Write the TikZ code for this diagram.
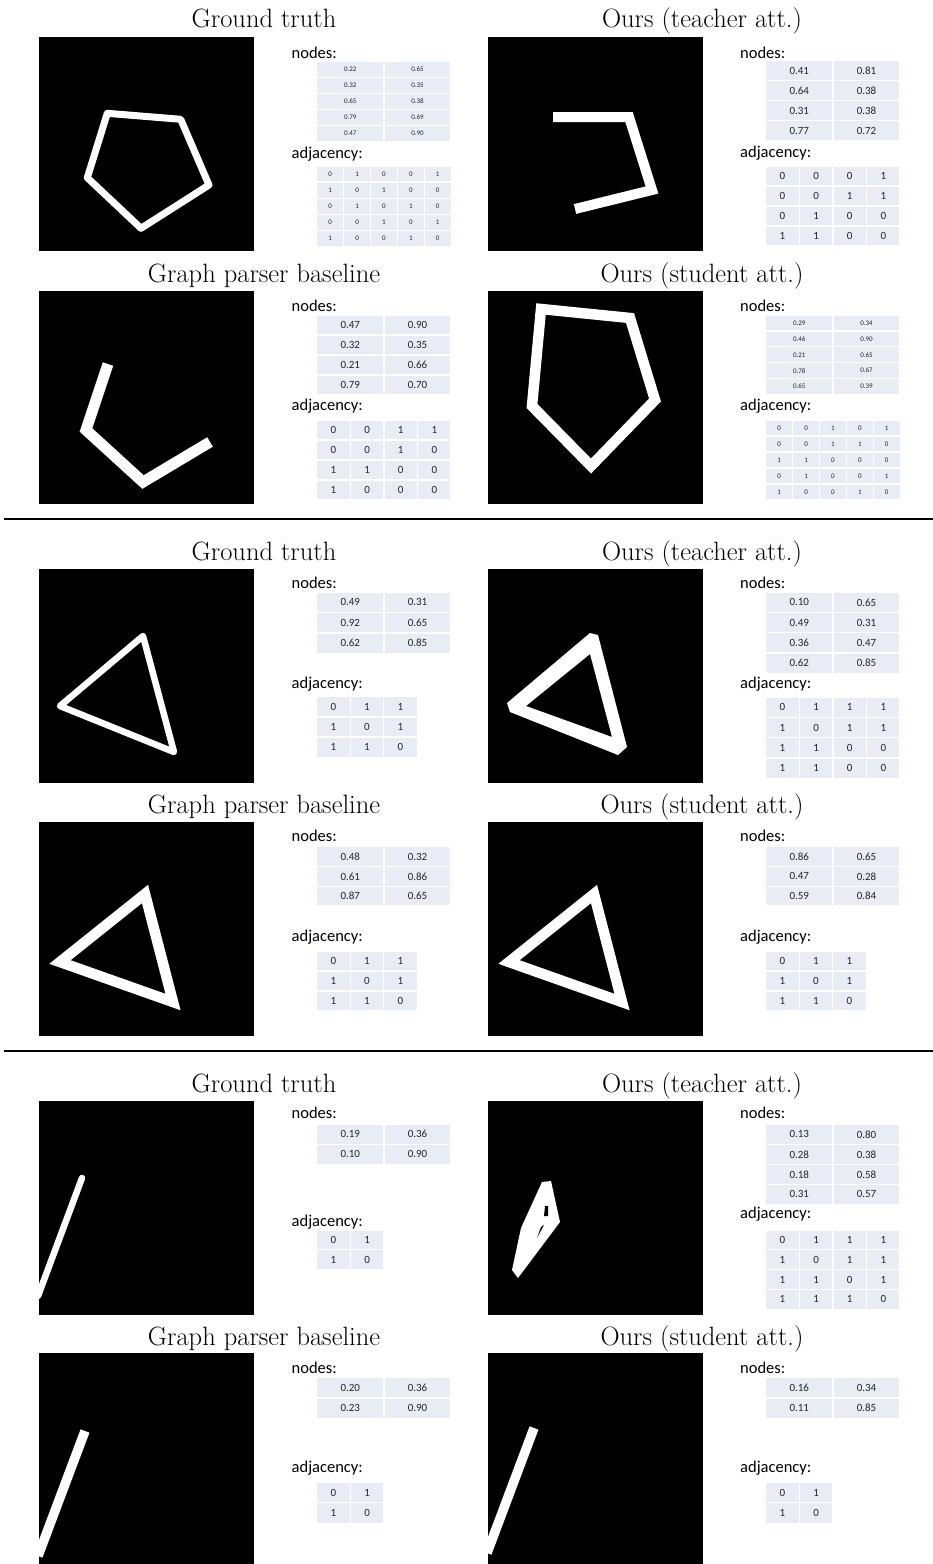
\documentclass[tikz,border=0pt]{standalone}
\usepackage{fontspec}
\newfontfamily\calfam{Carlito}
\definecolor{cellc}{HTML}{E9EBF5}
\tikzset{
  x=1pt,y=-1pt,
  cell/.style={fill=cellc,draw=white,line width=1.3pt,inner sep=0pt,text=black!85},
  img/.style={fill=black,draw=none,inner sep=0pt,anchor=north west,minimum width=214.5pt,minimum height=213.5pt},
  ttl/.style={font=\fontsize{26.5}{30}\selectfont,anchor=base,inner sep=0pt},
  lbl/.style={font=\calfam\fontsize{16.5}{19}\selectfont,anchor=base west,inner sep=0pt},
  shp/.style={draw=white,line join=miter},
  soft/.style={draw=white,line join=round,line cap=round},
  rulestyle/.style={draw=black,line width=1.4pt},
}
% #1 name, #2 x left, #3 y top, #4 col width, #5 row height, #6 font size, #7 rows
\newcommand{\gtable}[7]{%
  \foreach \rw [count=\i] in {#7} {
    \foreach \v [count=\j] in \rw {
      \node[cell, minimum width=#4pt, minimum height=#5pt,
            font=\calfam\fontsize{#6}{#6}\selectfont] (#1-\i-\j)
            at ({#2+(\j-0.5)*#4},{#3+(\i-0.5)*#5}) {\v};
    }
  }%
}
\begin{document}
\begin{tikzpicture}
\useasboundingbox (0,0) rectangle (933,1564);

% ================= Section 1 =================
\node[ttl] (t11) at (264,27) {Ground truth};
\node[ttl] (t12) at (702,27) {Ours (teacher att.)};
\node[ttl] (t13) at (264,282) {Graph parser baseline};
\node[ttl] (t14) at (702,282) {Ours (student att.)};

\node[img] (i11) at (39,37) {};
\node[img] (i12) at (488,37) {};
\node[img] (i13) at (39,290.5) {};
\node[img] (i14) at (488,290.5) {};

\begin{scope}
  \clip (i11.north west) rectangle (i11.south east);
  \draw[soft,line width=7pt] (107.3,113.3) -- (180.7,119.3) -- (209,185) -- (141,228.3) -- (87.3,177.7) -- cycle;
\end{scope}
\begin{scope}
  \clip (i12.north west) rectangle (i12.south east);
  \draw[shp,line width=10pt] (553,117) -- (629,117) -- (652,190) -- (575,209);
\end{scope}
\begin{scope}
  \clip (i13.north west) rectangle (i13.south east);
  \draw[shp,line width=11pt] (108,364) -- (86,430) -- (143,482) -- (210,442);
\end{scope}
\begin{scope}
  \clip (i14.north west) rectangle (i14.south east);
  \draw[shp,line width=10.5pt] (541,309) -- (630,318) -- (655,400) -- (591,466) -- (532,406) -- cycle;
\end{scope}

\node[lbl] (n11) at (291.5,58.5) {nodes:};
\node[lbl] (a11) at (291.5,158.3) {adjacency:};
\gtable{nt11}{316.7}{61.7}{67.2}{15.9}{7}{{0.22,0.65},{0.32,0.35},{0.65,0.38},{0.79,0.69},{0.47,0.90}}
\gtable{at11}{316.7}{166}{26.9}{16.1}{7}{{0,1,0,0,1},{1,0,1,0,0},{0,1,0,1,0},{0,0,1,0,1},{1,0,0,1,0}}

\node[lbl] (n12) at (740,58.5) {nodes:};
\node[lbl] (a12) at (740,157.5) {adjacency:};
\gtable{nt12}{765.7}{60.5}{67.2}{20}{11}{{0.41,0.81},{0.64,0.38},{0.31,0.38},{0.77,0.72}}
\gtable{at12}{765.7}{166}{33.6}{20}{11}{{0,0,0,1},{0,0,1,1},{0,1,0,0},{1,1,0,0}}

\node[lbl] (n13) at (291.5,311.7) {nodes:};
\node[lbl] (a13) at (291.5,410.5) {adjacency:};
\gtable{nt13}{316.7}{315}{67.2}{20}{11}{{0.47,0.90},{0.32,0.35},{0.21,0.66},{0.79,0.70}}
\gtable{at13}{316.7}{420}{33.6}{20}{11}{{0,0,1,1},{0,0,1,0},{1,1,0,0},{1,0,0,0}}

\node[lbl] (n14) at (740,311.7) {nodes:};
\node[lbl] (a14) at (740,410.5) {adjacency:};
\gtable{nt14}{765.7}{315}{67.2}{15.9}{7}{{0.29,0.34},{0.46,0.90},{0.21,0.65},{0.78,0.67},{0.65,0.39}}
\gtable{at14}{765.7}{420}{26.9}{16}{7}{{0,0,1,0,1},{0,0,1,1,0},{1,1,0,0,0},{0,1,0,0,1},{1,0,0,1,0}}

\coordinate (r1a) at (4,519);
\coordinate (r1b) at (933,519);
\draw[rulestyle] (r1a) -- (r1b);

% ================= Section 2 =================
\node[ttl] (t21) at (264,560) {Ground truth};
\node[ttl] (t22) at (702,560) {Ours (teacher att.)};
\node[ttl] (t23) at (264,813) {Graph parser baseline};
\node[ttl] (t24) at (702,813) {Ours (student att.)};

\node[img] (i21) at (39,569) {};
\node[img] (i22) at (488,569) {};
\node[img] (i23) at (39,822) {};
\node[img] (i24) at (488,822) {};

\begin{scope}
  \clip (i21.north west) rectangle (i21.south east);
  \draw[soft,line width=6.5pt] (143,636) -- (60,706) -- (174,752) -- cycle;
\end{scope}
\begin{scope}
  \clip (i22.north west) rectangle (i22.south east);
  \fill[white,even odd rule]
    (590,633) -- (598,635) -- (627,747) -- (618,755) -- (510,712) -- (507,703) -- cycle
    (590,654) -- (526,706) -- (612,737) -- cycle;
\end{scope}
\begin{scope}
  \clip (i23.north west) rectangle (i23.south east);
  \draw[shp,line width=10.5pt] (145,894) -- (60,962) -- (173,1002) -- cycle;
\end{scope}
\begin{scope}
  \clip (i24.north west) rectangle (i24.south east);
  \draw[shp,line width=10.5pt] (594,894) -- (509,962) -- (622,1002) -- cycle;
\end{scope}

\node[lbl] (n21) at (291.5,588.3) {nodes:};
\node[lbl] (a21) at (291.5,688.3) {adjacency:};
\gtable{nt21}{316.7}{592.3}{67.2}{20.3}{11}{{0.49,0.31},{0.92,0.65},{0.62,0.85}}
\gtable{at21}{316.7}{696.7}{33.5}{20.2}{11}{{0,1,1},{1,0,1},{1,1,0}}

\node[lbl] (n22) at (740,588.3) {nodes:};
\node[lbl] (a22) at (740,688.3) {adjacency:};
\gtable{nt22}{765.7}{592.3}{67.2}{20.25}{11}{{0.10,0.65},{0.49,0.31},{0.36,0.47},{0.62,0.85}}
\gtable{at22}{765.7}{697.3}{33.6}{20.25}{11}{{0,1,1,1},{1,0,1,1},{1,1,0,0},{1,1,0,0}}

\node[lbl] (n23) at (291.5,841.7) {nodes:};
\node[lbl] (a23) at (291.5,941) {adjacency:};
\gtable{nt23}{316.7}{846.7}{67.2}{19.8}{11}{{0.48,0.32},{0.61,0.86},{0.87,0.65}}
\gtable{at23}{316.7}{951}{33.5}{20}{11}{{0,1,1},{1,0,1},{1,1,0}}

\node[lbl] (n24) at (740,841.7) {nodes:};
\node[lbl] (a24) at (740,941) {adjacency:};
\gtable{nt24}{765.7}{846.7}{67.2}{19.8}{11}{{0.86,0.65},{0.47,0.28},{0.59,0.84}}
\gtable{at24}{765.7}{951}{33.5}{20}{11}{{0,1,1},{1,0,1},{1,1,0}}

\coordinate (r2a) at (4,1051);
\coordinate (r2b) at (933,1051);
\draw[rulestyle] (r2a) -- (r2b);

% ================= Section 3 =================
\node[ttl] (t31) at (264,1092) {Ground truth};
\node[ttl] (t32) at (702,1092) {Ours (teacher att.)};
\node[ttl] (t33) at (264,1345) {Graph parser baseline};
\node[ttl] (t34) at (702,1345) {Ours (student att.)};

\node[img] (i31) at (39,1101) {};
\node[img] (i32) at (488,1101) {};
\node[img,minimum height=211pt] (i33) at (39,1353) {};
\node[img,minimum height=211pt] (i34) at (488,1353) {};

\begin{scope}
  \clip (i31.north west) rectangle (i31.south east);
  \draw[soft,line width=6.5pt] (82,1178) -- (38,1296);
\end{scope}
\begin{scope}
  \clip (i32.north west) rectangle (i32.south east);
  \fill[white] (542,1182) -- (551,1181) -- (560,1222) -- (518,1278) -- (512,1270) -- (521,1228) -- cycle;
  \fill[black] (545,1206) -- (548,1206) -- (548,1216) -- (544,1216) -- cycle;
  \fill[black] (541,1227) -- (544,1225) -- (537,1238) -- cycle;
\end{scope}
\begin{scope}
  \clip (i33.north west) rectangle (i33.south east);
  \draw[shp,line width=9.5pt] (85,1431) -- (38,1556);
\end{scope}
\begin{scope}
  \clip (i34.north west) rectangle (i34.south east);
  \draw[shp,line width=9.5pt] (534,1428) -- (487,1553);
\end{scope}

\node[lbl] (n31) at (291.5,1118.8) {nodes:};
\node[lbl] (a31) at (291.5,1226) {adjacency:};
\gtable{nt31}{316.7}{1124.3}{67.2}{20}{11}{{0.19,0.36},{0.10,0.90}}
\gtable{at31}{316.7}{1230}{33.6}{19.8}{11}{{0,1},{1,0}}

\node[lbl] (n32) at (740,1118.5) {nodes:};
\node[lbl] (a32) at (740,1218.3) {adjacency:};
\gtable{nt32}{765.7}{1124.3}{67.2}{20}{11}{{0.13,0.80},{0.28,0.38},{0.18,0.58},{0.31,0.57}}
\gtable{at32}{765.7}{1230}{33.6}{19.8}{11}{{0,1,1,1},{1,0,1,1},{1,1,0,1},{1,1,1,0}}

\node[lbl] (n33) at (291.5,1373.3) {nodes:};
\node[lbl] (a33) at (291.5,1472.5) {adjacency:};
\gtable{nt33}{316.7}{1377.7}{67.2}{20.3}{11}{{0.20,0.36},{0.23,0.90}}
\gtable{at33}{316.7}{1482.3}{33.6}{20.5}{11}{{0,1},{1,0}}

\node[lbl] (n34) at (740,1373.3) {nodes:};
\node[lbl] (a34) at (740,1472.5) {adjacency:};
\gtable{nt34}{765.7}{1377.7}{67.2}{20.3}{11}{{0.16,0.34},{0.11,0.85}}
\gtable{at34}{765.7}{1482.3}{33.6}{20.5}{11}{{0,1},{1,0}}

\end{tikzpicture}
\end{document}
